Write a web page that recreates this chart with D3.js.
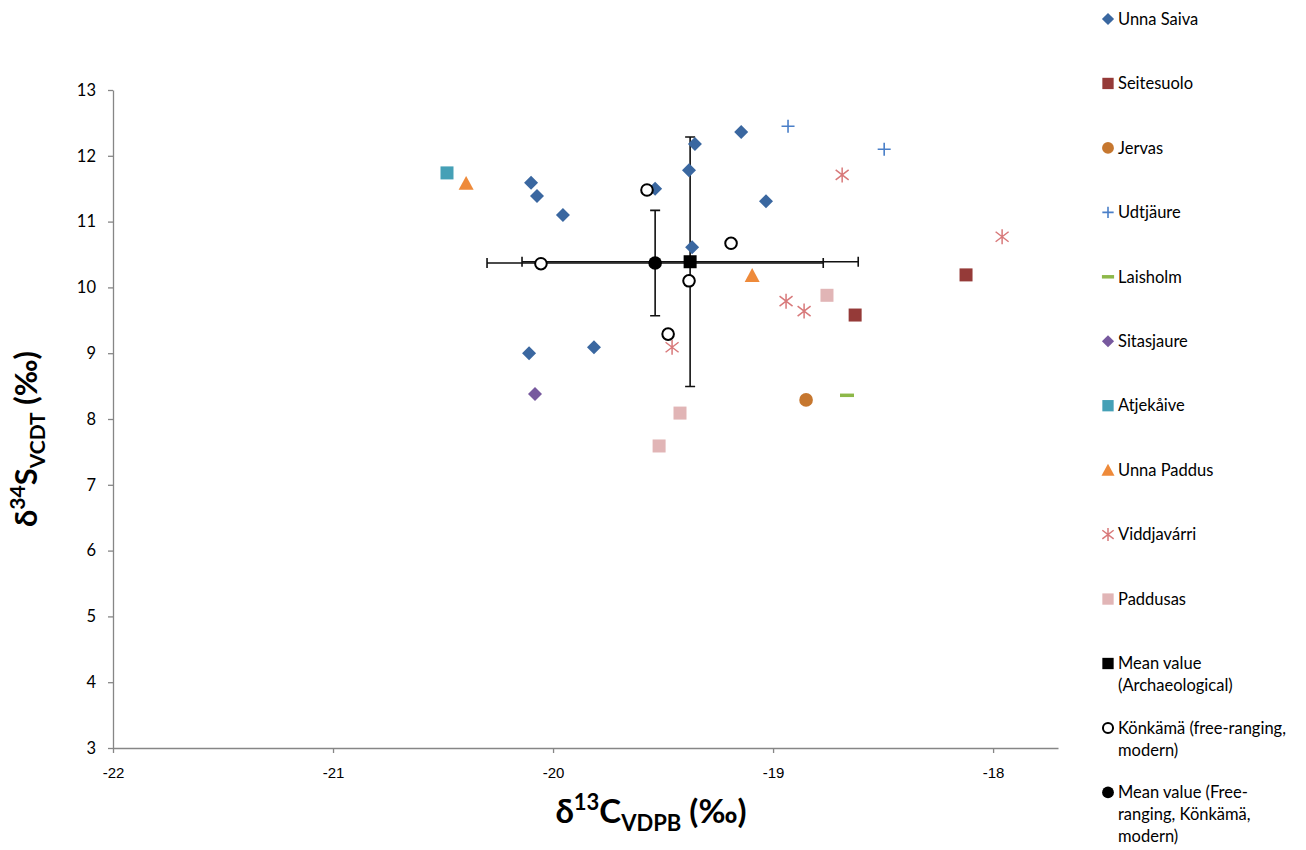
<!DOCTYPE html>
<html><head><meta charset="utf-8">
<script src="https://cdn.jsdelivr.net/npm/d3@7"></script>
<style>body{margin:0;background:#fff}svg{display:block}</style>
</head><body>
<svg id="c" width="1306" height="850"></svg>
<script>
// ---- data ----
const xTicks = [-22, -21, -20, -19, -18];
const yTicks = [3, 4, 5, 6, 7, 8, 9, 10, 11, 12, 13];

const unnaSaiva = [[-19.145,12.36],[-19.355,12.18],[-19.382,11.78],[-19.536,11.50],[-20.10,11.59],[-20.073,11.39],[-19.955,11.10],[-19.032,11.31],[-19.368,10.61],[-20.109,9.00],[-19.814,9.09]];
const seitesuolo = [[-18.123,10.19],[-18.627,9.58]];
const jervas = [[-18.85,8.29]];
const udtjaure = [[-18.932,12.45],[-18.495,12.10]];
const laisholm = [[-18.664,8.36]];
const sitasjaure = [[-20.082,8.38]];
const atjekaive = [[-20.482,11.74]];
const unnaPaddus = [[-20.395,11.58],[-19.095,10.18]];
const viddjavarri = [[-18.686,11.71],[-17.959,10.77],[-18.941,9.79],[-18.859,9.64],[-19.459,9.09]];
const paddusas = [[-18.755,9.88],[-19.423,8.09],[-19.518,7.59]];
const meanArch = [[-19.377,10.39]];
const meanArchErrX = [0.764];
const meanArchErrY = [1.895];
const konkama = [[-20.055,10.36],[-19.573,11.48],[-19.191,10.67],[-19.382,10.10],[-19.477,9.29]];
const meanFree = [[-19.536,10.37]];
const meanFreeErrX = [0.764];
const meanFreeErrY = [0.80];

const legendLines = [["Unna Saiva"],["Seitesuolo"],["Jervas"],["Udtjäure"],["Laisholm"],["Sitasjaure"],["Atjekåive"],["Unna Paddus"],["Viddjavárri"],["Paddusas"],["Mean value","(Archaeological)"],["Könkämä (free-ranging,","modern)"],["Mean value (Free-","ranging, Könkämä,","modern)"]];

const series = [
  {data: unnaSaiva, shape:"diamond", color:"#3A67A0"},
  {data: seitesuolo, shape:"square", color:"#953A38"},
  {data: jervas, shape:"circle", color:"#C6772F"},
  {data: udtjaure, shape:"plus", color:"#4A7FC8"},
  {data: laisholm, shape:"dash", color:"#8DB849"},
  {data: sitasjaure, shape:"diamond", color:"#77599E"},
  {data: atjekaive, shape:"square", color:"#45A0B6"},
  {data: unnaPaddus, shape:"triangle", color:"#EE8A3A"},
  {data: viddjavarri, shape:"star", color:"#D8797A"},
  {data: paddusas, shape:"square", color:"#E1B5B6"},
  {data: meanArch, shape:"square", color:"#000", ex: meanArchErrX, ey: meanArchErrY},
  {data: konkama, shape:"open", color:"#000"},
  {data: meanFree, shape:"circle", color:"#000", ex: meanFreeErrX, ey: meanFreeErrY}
];

// ---- scales ----
const svg = d3.select("#c");
const x = d3.scaleLinear().domain([-22, -17.705]).range([113, 1058]);
const y = d3.scaleLinear().domain([3, 13]).range([748, 90]);
const fmt = d => String(d);

// axes
const gx = svg.append("g").attr("transform", `translate(0,${y(3)})`)
  .call(d3.axisBottom(x).tickValues(xTicks).tickSize(5).tickSizeOuter(0).tickFormat(fmt));
gx.selectAll("text").attr("font-family","'Liberation Sans Narrow','Liberation Sans',sans-serif").attr("font-size",15).attr("fill","#000").attr("y",25).attr("dy","0.35em");
const gy = svg.append("g").attr("transform", `translate(${x(-22)},0)`)
  .call(d3.axisLeft(y).tickValues(yTicks).tickSize(5).tickSizeOuter(0).tickFormat(fmt));
gy.selectAll("text").attr("font-family","Lato, sans-serif").attr("font-size",16.5).attr("fill","#000").attr("x",-17);
svg.selectAll(".domain, .tick line").attr("stroke","#868686").attr("stroke-width",1.3);

// marker drawing
function marker(g, shape, color, s) {
  if (shape === "diamond") {
    const r = 7*s;
    g.append("path").attr("d",`M0,${-r}L${r},0L0,${r}L${-r},0Z`).attr("fill",color);
  } else if (shape === "square") {
    const h = 6.5*s;
    g.append("rect").attr("x",-h).attr("y",-h).attr("width",2*h).attr("height",2*h).attr("fill",color);
  } else if (shape === "circle") {
    g.append("circle").attr("r",6.8*s).attr("fill",color);
  } else if (shape === "open") {
    g.append("circle").attr("r",5.8*s).attr("fill","#fff").attr("stroke",color).attr("stroke-width",2);
  } else if (shape === "triangle") {
    const r = 7.5*s;
    g.append("path").attr("d",`M0,${-r}L${r},${r*0.85}L${-r},${r*0.85}Z`).attr("fill",color);
  } else if (shape === "plus") {
    const r = 6.5*s;
    g.append("path").attr("d",`M${-r},0H${r}M0,${-r}V${r}`).attr("stroke",color).attr("stroke-width",1.6).attr("fill","none");
  } else if (shape === "dash") {
    const r = 7*s;
    g.append("path").attr("d",`M${-r},0H${r}`).attr("stroke",color).attr("stroke-width",3.5).attr("fill","none");
  } else if (shape === "star") {
    const r = 7.5*s, a = 6.5*s, b = 5*s;
    g.append("path").attr("d",`M0,${-r}V${r}M${-a},${-b}L${a},${b}M${-a},${b}L${a},${-b}`).attr("stroke",color).attr("stroke-width",1.5).attr("fill","none");
  }
}

// error bars
const eb = svg.append("g").attr("stroke","#111").attr("stroke-width",1.6).attr("fill","none");
series.forEach(sr => {
  if (!sr.ex) return;
  sr.data.forEach((d,i) => {
    const cx = x(d[0]), cy = y(d[1]);
    const x0 = x(d[0]-sr.ex[i]), x1 = x(d[0]+sr.ex[i]);
    const y0 = y(d[1]-sr.ey[i]), y1 = y(d[1]+sr.ey[i]);
    eb.append("path").attr("d",`M${x0},${cy}H${x1}M${x0},${cy-5}V${cy+5}M${x1},${cy-5}V${cy+5}`);
    eb.append("path").attr("d",`M${cx},${y0}V${y1}M${cx-5},${y0}H${cx+5}M${cx-5},${y1}H${cx+5}`);
  });
});

// points
series.forEach(sr => {
  const g = svg.append("g");
  sr.data.forEach(d => {
    const m = g.append("g").attr("transform",`translate(${x(d[0])},${y(d[1])})`);
    marker(m, sr.shape, sr.color, 1);
  });
});

// legend
const lg = svg.append("g");
series.forEach((sr,i) => {
  const y0 = 19 + 64.45*i;
  const m = lg.append("g").attr("transform",`translate(1108,${y0})`);
  marker(m, sr.shape, sr.color, 0.87);
  const t = lg.append("text").attr("x",1118).attr("y",y0).attr("font-family","Lato, 'Open Sans', sans-serif").attr("font-size",16.5).attr("fill","#000");
  legendLines[i].forEach((ln,j) => {
    t.append("tspan").attr("x",1118).attr("y", y0 + 22*j).attr("dy","0.35em").text(ln);
  });
});

// axis titles
const xt = svg.append("text").attr("x",651).attr("y",823).attr("text-anchor","middle")
  .attr("font-family","Lato, sans-serif").attr("font-weight","bold").attr("font-size",33).attr("fill","#000");
xt.append("tspan").text("δ");
xt.append("tspan").attr("font-size",22).attr("dy",-13).text("13");
xt.append("tspan").attr("dy",13).text("C");
xt.append("tspan").attr("font-size",22).attr("dy",8).text("VDPB");
xt.append("tspan").attr("dy",-8).text(" (‰)");

const yt = svg.append("text").attr("transform","translate(37,439) rotate(-90)").attr("text-anchor","middle")
  .attr("font-family","Lato, sans-serif").attr("font-weight","bold").attr("font-size",31).attr("fill","#000");
yt.append("tspan").text("δ");
yt.append("tspan").attr("font-size",21).attr("dy",-12).text("34");
yt.append("tspan").attr("dy",12).text("S");
yt.append("tspan").attr("font-size",21).attr("dy",8).text("VCDT");
yt.append("tspan").attr("dy",-8).text(" (‰)");
</script>
</body></html>
